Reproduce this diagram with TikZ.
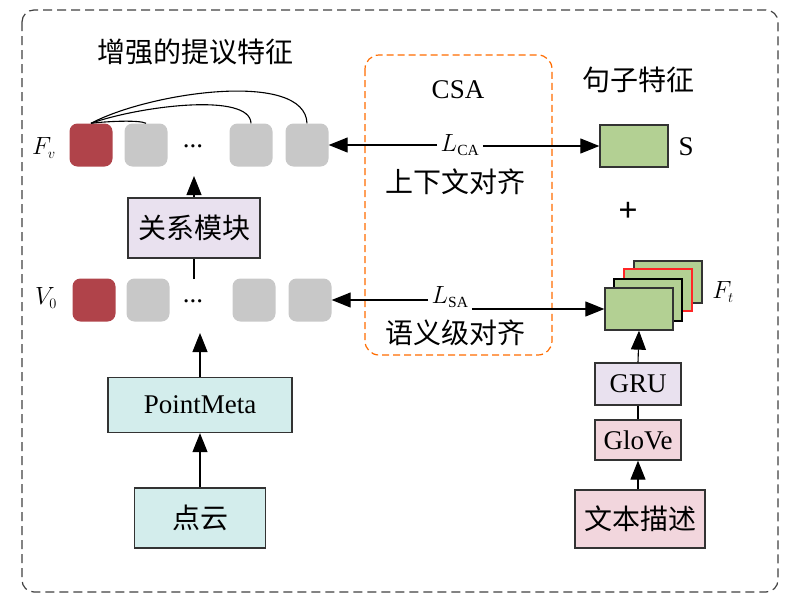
\documentclass[tikz,border=0pt]{standalone}
\usepackage{fontspec}
\setmainfont{Liberation Serif}
\newfontfamily\cjk{Noto Sans CJK SC}
\usetikzlibrary{arrows.meta}
\definecolor{redb}{HTML}{B0434A}
\definecolor{grayb}{HTML}{C8C8C8}
\definecolor{lav}{HTML}{E9E1EF}
\definecolor{teal}{HTML}{D3EDEC}
\definecolor{pinkb}{HTML}{F2D6DD}
\definecolor{grn}{HTML}{B3D093}
\tikzset{
 tok/.style={rounded corners=8pt,minimum width=43pt,minimum height=43pt,inner sep=0},
 redtok/.style={tok,fill=redb},
 graytok/.style={tok,fill=grayb},
 blk/.style={draw=black!80,line width=1.3pt,inner sep=0},
 arr/.style={-{Triangle[length=19pt,width=15pt]},line width=1.1pt},
 lab/.style={font=\fontsize{27}{29}\selectfont},
 zh/.style={font=\cjk\fontsize{28}{30}\selectfont},
 big/.style={font=\fontsize{31}{31}\selectfont},
}
\begin{document}
\begin{tikzpicture}[x=1pt,y=-1pt]
\useasboundingbox (0,0) rectangle (800,600);
\draw[dashed,dash pattern=on 9pt off 5pt,line width=1.2pt,black!75,rounded corners=12pt] (22,10) rectangle (778,592);
\draw[dashed,dash pattern=on 7pt off 4pt,line width=1.2pt,orange!85!red,rounded corners=14pt] (365,55) rectangle (552,355);
\node[zh] (t1) at (195,52) {增强的提议特征};
\node[lab] (csa) at (458,90) {CSA};
\node[zh] (t2) at (638,80) {句子特征};
% row 1
\node[big] (fv) at (44,148) {$F_{\scriptscriptstyle v}$};
\node[redtok] (a1) at (91,145) {};
\node[graytok] (a2) at (146,145) {};
\node[lab] (ad) at (193,146) {...};
\node[graytok] (a3) at (251,145) {};
\node[graytok] (a4) at (307,145) {};
\draw[line width=1.1pt] (a1.north) .. controls (110,121) and (140,120) .. (a2.north);
\draw[line width=1.1pt] (a1.north) .. controls (140,106) and (250,92) .. (a3.north);
\draw[line width=1.1pt] (a1.north) .. controls (150,92) and (305,70) .. (a4.north);
% row 2
\node[big] (v0) at (46,298) {$V_{\scriptscriptstyle 0}$};
\node[redtok] (b1) at (94,300) {};
\node[graytok] (b2) at (148,300) {};
\node[lab] (bd) at (193,301) {...};
\node[graytok] (b3) at (254,300) {};
\node[graytok] (b4) at (310,300) {};
\node[blk,fill=lav,minimum width=132pt,minimum height=60pt,zh] (rel) at (194,228) {关系模块};
\coordinate (r2top) at (194,279);
\draw[line width=1.1pt] (r2top) -- (rel.south);
\coordinate (r1bot) at (194,176);
\draw[arr] (rel.north) -- (r1bot);
\node[blk,fill=teal,minimum width=184pt,minimum height=55pt,lab] (pm) at (200,405) {PointMeta};
\node[blk,fill=teal,minimum width=131pt,minimum height=60pt,zh] (pc) at (200,518) {点云};
\coordinate (r2bot) at (200,333);
\draw[arr] (pm.north) -- (r2bot);
\draw[arr] (pc.north) -- (pm.south);
% middle
\node[big] (lca) at (460,145) {$L_{\scriptscriptstyle\mathrm{CA}}$};
\node[zh] (sxw) at (455,182) {上下文对齐};
\node[big] (lsa) at (450,297) {$L_{\scriptscriptstyle\mathrm{SA}}$};
\node[zh] (yyj) at (455,333) {语义级对齐};
% right
\node[blk,fill=grn,minimum width=68pt,minimum height=42pt] (s) at (634,146) {};
\node[lab] (sl) at (686,147) {S};
\node[font=\bfseries\fontsize{34}{34}\selectfont] (plus) at (628,212) {+};
\node[draw=black!80,line width=1.2pt,fill=grn,minimum width=68pt,minimum height=42pt] (f4) at (668,282) {};
\node[draw=red!85,line width=1.2pt,fill=grn,minimum width=68pt,minimum height=42pt] (f3) at (658,290) {};
\node[draw=black,line width=1.2pt,fill=grn,minimum width=68pt,minimum height=42pt] (f2) at (648,300) {};
\node[blk,fill=grn,minimum width=68pt,minimum height=42pt] (f1) at (639,309) {};
\node[big] (ft) at (723,292) {$F_{\scriptscriptstyle t}$};
\node[blk,fill=lav,minimum width=86pt,minimum height=42pt,lab] (gru) at (638,384) {GRU};
\node[blk,fill=pinkb,minimum width=86pt,minimum height=40pt,lab] (glo) at (638,440) {GloVe};
\node[blk,fill=pinkb,minimum width=130pt,minimum height=58pt,zh] (txt) at (640,519) {文本描述};
\draw[arr] (txt.north -| glo) -- (glo.south);
\draw[line width=1.1pt] (glo.north) -- (gru.south);
\draw[arr] (gru.north) -- (f1.south);
% arrows
\draw[arr] (lca.west |- a4) -- (a4.east);
\draw[arr] (lca.east |- s) -- (s.west);
\draw[arr] (lsa.west |- b4) -- (b4.east);
\draw[arr] (lsa.east |- f1.west) -- (f1.west);
\end{tikzpicture}
\end{document}
